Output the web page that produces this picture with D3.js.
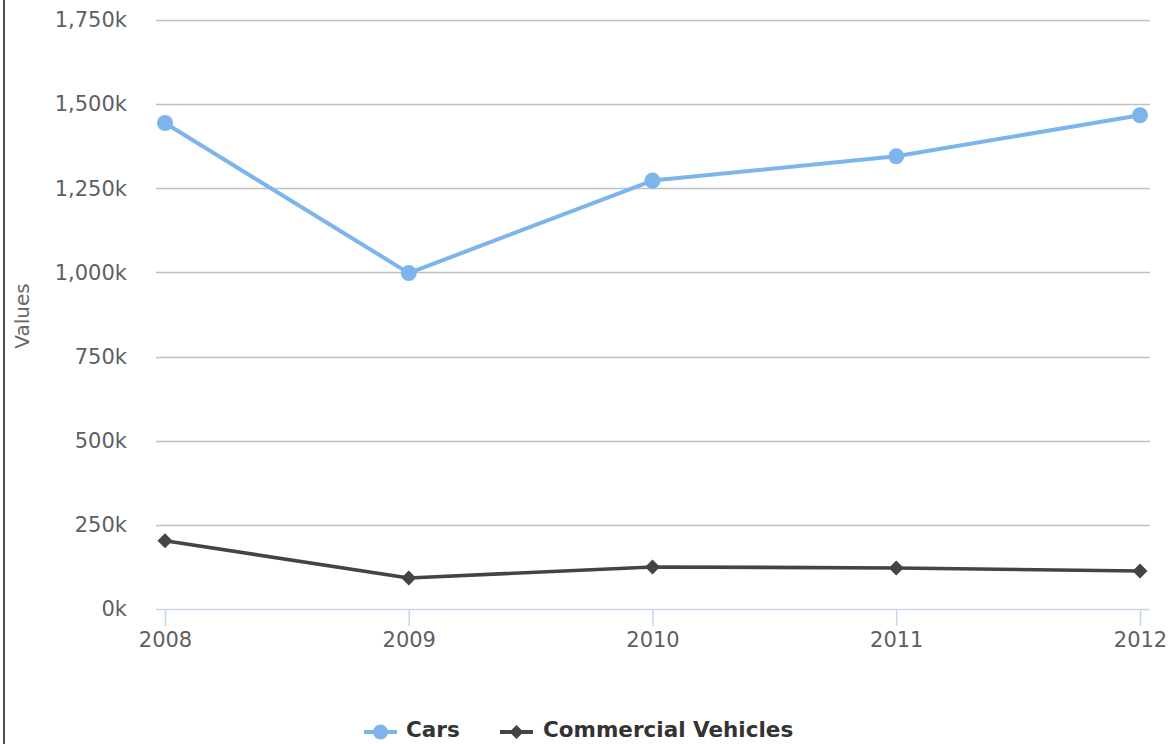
<!DOCTYPE html>
<html>
<head>
<meta charset="utf-8">
<script src="https://cdn.jsdelivr.net/npm/d3@7"></script>
<style>
  html, body { margin: 0; padding: 0; background: #fff; }
  svg { display: block; }
  text { font-family: "DejaVu Sans", Verdana, sans-serif; }
</style>
</head>
<body>
<svg id="chart" width="1175" height="744"></svg>
<script>
const years = ["2008", "2009", "2010", "2011", "2012"];
const cars = [1444000, 998000, 1273000, 1345000, 1467000];
const commercial = [203000, 92000, 125000, 122000, 113000];
const yTicks = [0, 250000, 500000, 750000, 1000000, 1250000, 1500000, 1750000];
const seriesNames = ["Cars", "Commercial Vehicles"];
const seriesColors = ["#7cb5ec", "#434348"];

const svg = d3.select("#chart");
const plotLeft = 156, plotRight = 1150, plotTop = 20, plotBottom = 609;

const x = d3.scalePoint().domain(years).range([165, 1140]);
const y = d3.scaleLinear().domain([0, 1750000]).range([plotBottom, plotTop]);

// left border
svg.append("line").attr("x1", 4).attr("x2", 4).attr("y1", 0).attr("y2", 744)
  .attr("stroke", "#222").attr("stroke-width", 1.6);

// grid lines
svg.append("g").selectAll("line").data(yTicks.filter(d => d > 0)).join("line")
  .attr("x1", plotLeft).attr("x2", plotRight)
  .attr("y1", d => Math.round(y(d)) + 0.5).attr("y2", d => Math.round(y(d)) + 0.5)
  .attr("stroke", "#c0c0c0").attr("stroke-width", 1.6);

// y axis labels
const fmt = d => d3.format(",")(d / 1000) + "k";
const yAxis = d3.axisLeft(y).tickValues(yTicks).tickFormat(fmt).tickSize(0).tickPadding(0);
const yg = svg.append("g").attr("transform", `translate(127,0)`).call(yAxis);
yg.select(".domain").remove();
yg.selectAll("text").attr("fill", "#5f5f5f").attr("font-size", 21)
  .attr("font-family", "DejaVu Sans, Verdana, sans-serif");

// x axis
const xAxis = d3.axisBottom(x).tickSize(17).tickPadding(6);
const xg = svg.append("g").attr("transform", `translate(0,${plotBottom})`).call(xAxis);
xg.select(".domain").attr("d", `M${plotLeft},0.5H${plotRight}`).attr("stroke", "#ccd6eb").attr("stroke-width", 1.6);
xg.selectAll(".tick line").attr("stroke", "#ccd6eb").attr("stroke-width", 1.6);
xg.selectAll("text").attr("fill", "#5f5f5f").attr("font-size", 21)
  .attr("font-family", "DejaVu Sans, Verdana, sans-serif");

// y axis title
svg.append("text").attr("transform", "translate(29,316) rotate(-90)")
  .attr("text-anchor", "middle").attr("fill", "#666").attr("font-size", 20)
  .text("Values");

const line = d3.line().x((d, i) => x(years[i])).y(d => y(d));

function diamondPath(r) {
  const p = d3.path();
  p.moveTo(0, -r); p.lineTo(r, 0); p.lineTo(0, r); p.lineTo(-r, 0); p.closePath();
  return p.toString();
}

// commercial vehicles
svg.append("path").datum(commercial).attr("d", line)
  .attr("fill", "none").attr("stroke", seriesColors[1]).attr("stroke-width", 3.6)
  .attr("stroke-linejoin", "round");
svg.append("g").selectAll("path").data(commercial).join("path")
  .attr("transform", (d, i) => `translate(${x(years[i])},${y(d)})`)
  .attr("d", diamondPath(7.5)).attr("fill", seriesColors[1]);

// cars
svg.append("path").datum(cars).attr("d", line)
  .attr("fill", "none").attr("stroke", seriesColors[0]).attr("stroke-width", 4)
  .attr("stroke-linejoin", "round");
svg.append("g").selectAll("circle").data(cars).join("circle")
  .attr("cx", (d, i) => x(years[i])).attr("cy", d => y(d)).attr("r", 8)
  .attr("fill", seriesColors[0]);

// legend
const legend = [
  { name: seriesNames[0], color: seriesColors[0], x1: 364, x2: 397, tx: 406, sym: "circle" },
  { name: seriesNames[1], color: seriesColors[1], x1: 500, x2: 533, tx: 543, sym: "diamond" }
];
const lg = svg.append("g");
legend.forEach(l => {
  lg.append("line").attr("x1", l.x1).attr("x2", l.x2).attr("y1", 732).attr("y2", 732)
    .attr("stroke", l.color).attr("stroke-width", 3.8);
  const cx = (l.x1 + l.x2) / 2;
  if (l.sym === "circle") {
    lg.append("circle").attr("cx", cx).attr("cy", 732).attr("r", 7.5).attr("fill", l.color);
  } else {
    lg.append("path").attr("transform", `translate(${cx},732)`).attr("d", diamondPath(7)).attr("fill", l.color);
  }
  lg.append("text").attr("x", l.tx).attr("y", 737).attr("fill", "#333")
    .attr("font-size", 21.5).attr("font-weight", "bold").text(l.name);
});
</script>
</body>
</html>
